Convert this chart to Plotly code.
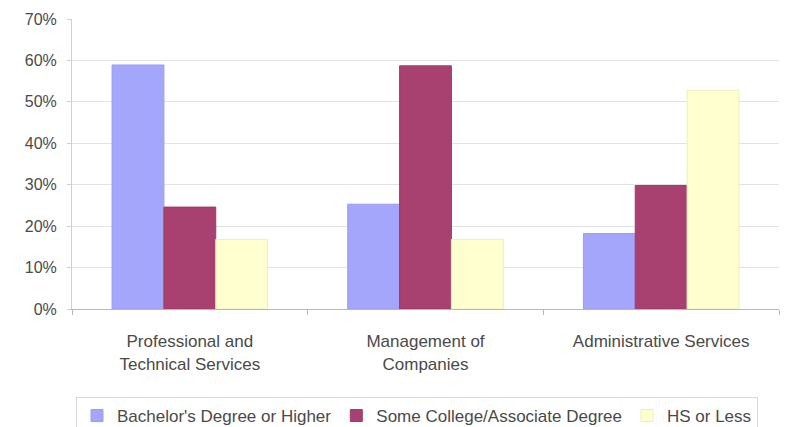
import plotly.graph_objects as go

# Industry categories shown along the x axis
categories = [
    "Professional and<br>Technical Services",
    "Management of<br>Companies",
    "Administrative Services",
]

# Share of workers by education level (percent)
series_names = [
    "Bachelor's Degree or Higher",
    "Some College/Associate Degree",
    "HS or Less",
]
bachelor = [58.9, 25.3, 18.2]
some_college = [24.6, 58.7, 29.8]
hs_or_less = [16.8, 16.8, 52.8]

fill_colors = ["#a3a6fb", "#a8416f", "#ffffcf"]
edge_colors = ["#9a9df0", "#9e3c68", "#eeeeb8"]

fig = go.Figure()
for name, vals, fc, ec in zip(series_names, [bachelor, some_college, hs_or_less],
                              fill_colors, edge_colors):
    fig.add_trace(go.Bar(
        x=categories, y=vals, name=name,
        marker=dict(color=fc, line=dict(color=ec, width=1)),
    ))

font_family = "Liberation Sans, Arial, sans-serif"
text_color = "#4a4a4a"
fig.update_layout(
    width=785, height=427,
    margin=dict(l=72, r=6, t=19, b=118),
    paper_bgcolor="white", plot_bgcolor="white",
    barmode="group", bargap=0.34, bargroupgap=0,
    font=dict(family=font_family, size=16, color=text_color),
    showlegend=True,
    legend=dict(
        orientation="h",
        xref="container", x=76 / 785, xanchor="left",
        yref="container", y=1 - 397 / 427, yanchor="top",
        bordercolor="#d8d8d8", borderwidth=1, bgcolor="white",
        font=dict(size=17, color=text_color),
        itemwidth=30, tracegroupgap=0,
    ),
)
fig.update_xaxes(
    showline=True, linecolor="#b8b8b8", linewidth=1,
    ticks="outside", tickson="boundaries", ticklen=5, tickcolor="#b8b8b8",
    showgrid=False, tickfont=dict(size=17, color=text_color),
    ticklabelstandoff=17,
)
fig.update_yaxes(
    range=[0, 70], tick0=0, dtick=10, ticksuffix="%",
    showgrid=True, gridcolor="#e2e2e2", gridwidth=1,
    showline=True, linecolor="#d0d0d0", linewidth=1,
    ticks="outside", ticklen=4, tickcolor="#d0d0d0",
    zeroline=False, tickfont=dict(size=16, color=text_color),
    ticklabelstandoff=7,
)

fig.write_html("out.html")
